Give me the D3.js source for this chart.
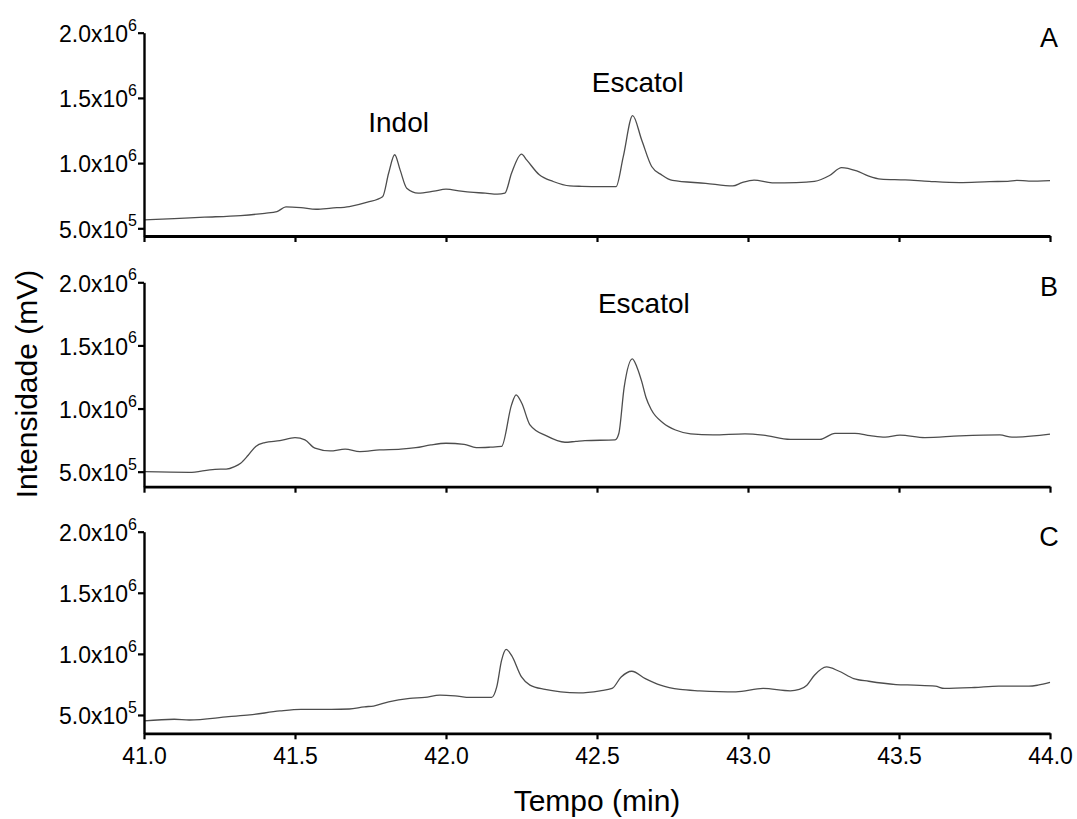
<!DOCTYPE html>
<html>
<head>
<meta charset="utf-8">
<script src="https://cdn.jsdelivr.net/npm/d3@7"></script>
<style>
  body { margin: 0; background: #fff; }
  text { font-family: "Liberation Sans", Arial, sans-serif; fill: #000; }
</style>
</head>
<body>
<svg id="chart" width="1077" height="819"></svg>
<script>
// x ticks (min) and y ticks (intensity)
const xTicks = [41.0, 41.5, 42.0, 42.5, 43.0, 43.5, 44.0];
const yTicks = [5e5, 1e6, 1.5e6, 2e6];
const yTickMantissa = ["5.0", "1.0", "1.5", "2.0"];
const yTickExponent = ["5", "6", "6", "6"];
const panelLetters = ["A", "B", "C"];

// chromatogram traces: [time (min), intensity]
const seriesA = [
  [41.00, 564000], [41.10, 575000], [41.20, 585000], [41.32, 598000], [41.40, 615000],
  [41.44, 628000], [41.47, 664000], [41.52, 658000], [41.57, 646000], [41.62, 655000],
  [41.68, 667000], [41.74, 700000], [41.79, 742000], [41.81, 922000], [41.83, 1064000],
  [41.848, 948000], [41.87, 808000], [41.908, 770000], [41.96, 785000], [42.00, 800000],
  [42.05, 785000], [42.08, 777000], [42.13, 770000], [42.17, 762000], [42.195, 770000],
  [42.217, 922000], [42.25, 1069000], [42.267, 1025000], [42.309, 910000], [42.355, 859000],
  [42.41, 825000], [42.45, 822000], [42.51, 820000], [42.563, 820000], [42.587, 1050000],
  [42.618, 1364000], [42.648, 1177000], [42.681, 974000], [42.714, 910000], [42.75, 867000],
  [42.86, 845000], [42.95, 825000], [42.98, 850000], [43.02, 870000], [43.08, 848000],
  [43.16, 850000], [43.22, 860000], [43.27, 905000], [43.31, 966000], [43.36, 940000],
  [43.40, 900000], [43.44, 877000], [43.52, 871000], [43.60, 860000], [43.70, 851000],
  [43.80, 858000], [43.86, 860000], [43.89, 868000], [43.93, 862000], [44.00, 866000]
];

const seriesB = [
  [41.00, 500000], [41.15, 495000], [41.235, 519000], [41.272, 520000], [41.30, 540000],
  [41.32, 567000], [41.345, 630000], [41.37, 700000], [41.40, 730000], [41.45, 746000],
  [41.50, 770000], [41.533, 752000], [41.566, 686000], [41.616, 664000], [41.666, 678000],
  [41.715, 659000], [41.78, 672000], [41.85, 678000], [41.90, 690000], [41.95, 712000],
  [42.00, 725000], [42.06, 717000], [42.10, 690000], [42.146, 694000], [42.184, 700000],
  [42.217, 1029000], [42.232, 1109000], [42.251, 1042000], [42.278, 871000], [42.333, 783000],
  [42.394, 733000], [42.43, 740000], [42.46, 746000], [42.56, 752000], [42.572, 800000],
  [42.59, 1170000], [42.617, 1394000], [42.632, 1330000], [42.648, 1215000],
  [42.662, 1090000], [42.68, 990000], [42.72, 884000], [42.76, 830000], [42.81, 800000],
  [42.884, 791000], [42.99, 799000], [43.05, 790000], [43.14, 756000], [43.238, 756000],
  [43.288, 804000], [43.354, 804000], [43.404, 786000], [43.454, 773000], [43.503, 789000],
  [43.586, 770000], [43.70, 783000], [43.834, 791000], [43.874, 773000], [44.00, 797000]
];

const seriesC = [
  [41.00, 451000], [41.10, 465000], [41.15, 459000], [41.28, 486000], [41.35, 500000],
  [41.45, 533000], [41.52, 546000], [41.62, 546000], [41.68, 549000], [41.73, 567000],
  [41.76, 573000], [41.81, 608000], [41.88, 636000], [41.93, 644000], [41.98, 663000],
  [42.03, 657000], [42.08, 644000], [42.151, 644000], [42.168, 730000], [42.184, 947000],
  [42.199, 1037000], [42.217, 988000], [42.25, 811000], [42.278, 744000], [42.328, 709000],
  [42.38, 689000], [42.44, 681000], [42.51, 698000], [42.55, 717000], [42.58, 811000],
  [42.615, 858000], [42.66, 798000], [42.71, 744000], [42.775, 709000], [42.84, 698000],
  [42.96, 689000], [43.05, 717000], [43.14, 698000], [43.17, 709000], [43.195, 744000],
  [43.22, 825000], [43.26, 893000], [43.30, 860000], [43.35, 798000], [43.40, 776000],
  [43.49, 749000], [43.55, 744000], [43.62, 736000], [43.65, 717000], [43.75, 725000],
  [43.83, 736000], [43.93, 736000], [43.96, 744000], [44.00, 766000]
];

// peak labels
const annoText = ["Indol", "Escatol", "Escatol"];
const annoPanel = [0, 0, 1];
const annoTime = [41.843, 42.635, 42.655];
const annoValue = [1.235e6, 1.546e6, 1.757e6];

const svg = d3.select("#chart");

const x = d3.scaleLinear().domain([41, 44]).range([144, 1050]);

const panels = [
  { data: seriesA, top: 32.7, bottom: 236, yMin: 441000 },
  { data: seriesB, top: 282.3, bottom: 486.7, yMin: 381000 },
  { data: seriesC, top: 531.7, bottom: 733.3, yMin: 350000 }
];

panels.forEach(function(p, i) {
  const y = d3.scaleLinear().domain([p.yMin, 2e6]).range([p.bottom, p.top]);
  p.y = y;

  const line = d3.line()
    .curve(d3.curveMonotoneX)
    .x(function(d) { return x(d[0]); })
    .y(function(d) { return y(d[1]); });

  svg.append("path")
    .datum(p.data)
    .attr("fill", "none")
    .attr("stroke", "#4d4d4d")
    .attr("stroke-width", 1.3)
    .attr("d", line);

  // bottom axis
  const xAxis = d3.axisBottom(x)
    .tickValues(xTicks)
    .tickSize(6)
    .tickSizeOuter(0)
    .tickPadding(8)
    .tickFormat(i === 2 ? d3.format(".1f") : "");

  const gx = svg.append("g")
    .attr("transform", "translate(0," + p.bottom + ")")
    .call(xAxis);
  gx.select(".domain").attr("stroke-width", 2.8);
  gx.selectAll(".tick line").attr("stroke-width", 2.2);
  gx.selectAll(".tick text")
    .attr("font-size", "23px")
    .attr("font-family", "Liberation Sans, Arial, sans-serif");

  // left axis
  const yAxis = d3.axisLeft(y)
    .tickValues(yTicks)
    .tickSize(6)
    .tickSizeOuter(0)
    .tickPadding(1);

  const gy = svg.append("g")
    .attr("transform", "translate(" + x(41) + ",0)")
    .call(yAxis);
  gy.select(".domain").attr("stroke-width", 2.4);
  gy.selectAll(".tick line").attr("stroke-width", 2.2);
  gy.selectAll(".tick text")
    .attr("font-family", "Liberation Sans, Arial, sans-serif")
    .attr("font-size", "23px")
    .attr("dy", "0.38em")
    .each(function(d, k) {
      const t = d3.select(this);
      t.text(null);
      t.append("tspan").text(yTickMantissa[k] + "x10");
      t.append("tspan")
        .attr("font-size", "16px")
        .attr("dy", "-0.7em")
        .text(yTickExponent[k]);
    });

  svg.append("text")
    .attr("x", x(44) - 1)
    .attr("y", p.top + 14)
    .attr("text-anchor", "middle")
    .attr("font-size", "27px")
    .text(panelLetters[i]);
});

// peak labels
annoText.forEach(function(txt, k) {
  const p = panels[annoPanel[k]];
  svg.append("text")
    .attr("x", x(annoTime[k]))
    .attr("y", p.y(annoValue[k]))
    .attr("text-anchor", "middle")
    .attr("font-size", "28px")
    .text(txt);
});

// axis titles
svg.append("text")
  .attr("transform", "translate(37,384) rotate(-90)")
  .attr("text-anchor", "middle")
  .attr("font-size", "30px")
  .text("Intensidade (mV)");

svg.append("text")
  .attr("x", 597)
  .attr("y", 811)
  .attr("text-anchor", "middle")
  .attr("font-size", "30px")
  .text("Tempo (min)");
</script>
</body>
</html>
